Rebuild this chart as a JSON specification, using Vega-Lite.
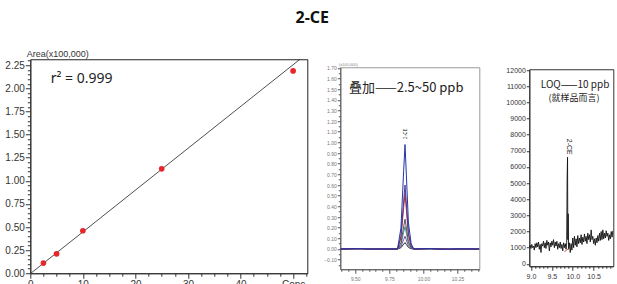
{
  "$schema": "https://vega.github.io/schema/vega-lite/v6.json",
  "padding": {"left": 2.3, "top": 9, "right": 5, "bottom": 0},
  "background": "white",
  "title": {"text": "2-CE", "fontSize": 16, "fontWeight": "bold", "font": "Noto Sans", "anchor": "middle", "dx": 4, "offset": 23, "color": "#111"},
  "config": {
    "view": {"stroke": "#222", "strokeWidth": 1},
    "axis": {"labelFont": "Liberation Sans Narrow, Liberation Sans, Arial", "titleFont": "Liberation Sans Narrow, Liberation Sans, Arial", "grid": false, "domainColor": "#333", "tickColor": "#333", "labelColor": "#333", "titleColor": "#333", "titleFontWeight": "normal", "labelOverlap": false, "labelFlush": false}
  },
  "datasets": {
    "fit": [{"conc": 0, "area": -0.005}, {"conc": 51.4, "area": 2.32}],
    "cal": [
      {"conc": 2.5, "area": 0.11},
      {"conc": 5, "area": 0.21},
      {"conc": 10, "area": 0.46},
      {"conc": 25, "area": 1.13},
      {"conc": 50, "area": 2.19}
    ],
    "overlay": [
      {"trace": "t7", "time": 9.39, "int": 0}, {"trace": "t7", "time": 9.55, "int": 0.004}, {"trace": "t7", "time": 9.7, "int": -0.003}, {"trace": "t7", "time": 9.81, "int": 0}, {"trace": "t7", "time": 9.835, "int": 0.012}, {"trace": "t7", "time": 9.855, "int": 0.045}, {"trace": "t7", "time": 9.865, "int": 0.06}, {"trace": "t7", "time": 9.875, "int": 0.042}, {"trace": "t7", "time": 9.89, "int": 0.015}, {"trace": "t7", "time": 9.91, "int": 0.003}, {"trace": "t7", "time": 9.93, "int": 0}, {"trace": "t7", "time": 10.05, "int": 0.003}, {"trace": "t7", "time": 10.2, "int": -0.002}, {"trace": "t7", "time": 10.41, "int": 0},
      {"trace": "t6", "time": 9.39, "int": 0}, {"trace": "t6", "time": 9.55, "int": 0.003}, {"trace": "t6", "time": 9.7, "int": -0.002}, {"trace": "t6", "time": 9.81, "int": 0}, {"trace": "t6", "time": 9.835, "int": 0.024}, {"trace": "t6", "time": 9.855, "int": 0.09}, {"trace": "t6", "time": 9.865, "int": 0.12}, {"trace": "t6", "time": 9.875, "int": 0.084}, {"trace": "t6", "time": 9.89, "int": 0.03}, {"trace": "t6", "time": 9.91, "int": 0.006}, {"trace": "t6", "time": 9.93, "int": 0}, {"trace": "t6", "time": 10.05, "int": 0.002}, {"trace": "t6", "time": 10.2, "int": -0.002}, {"trace": "t6", "time": 10.41, "int": 0},
      {"trace": "t5", "time": 9.39, "int": 0}, {"trace": "t5", "time": 9.55, "int": 0.002}, {"trace": "t5", "time": 9.7, "int": -0.003}, {"trace": "t5", "time": 9.81, "int": 0}, {"trace": "t5", "time": 9.835, "int": 0.042}, {"trace": "t5", "time": 9.855, "int": 0.158}, {"trace": "t5", "time": 9.865, "int": 0.21}, {"trace": "t5", "time": 9.875, "int": 0.147}, {"trace": "t5", "time": 9.89, "int": 0.053}, {"trace": "t5", "time": 9.91, "int": 0.011}, {"trace": "t5", "time": 9.93, "int": 0}, {"trace": "t5", "time": 10.05, "int": 0.003}, {"trace": "t5", "time": 10.2, "int": -0.002}, {"trace": "t5", "time": 10.41, "int": 0},
      {"trace": "t4", "time": 9.39, "int": 0}, {"trace": "t4", "time": 9.55, "int": 0.003}, {"trace": "t4", "time": 9.7, "int": -0.002}, {"trace": "t4", "time": 9.81, "int": 0}, {"trace": "t4", "time": 9.835, "int": 0.056}, {"trace": "t4", "time": 9.855, "int": 0.21}, {"trace": "t4", "time": 9.865, "int": 0.28}, {"trace": "t4", "time": 9.875, "int": 0.196}, {"trace": "t4", "time": 9.89, "int": 0.07}, {"trace": "t4", "time": 9.91, "int": 0.014}, {"trace": "t4", "time": 9.93, "int": 0}, {"trace": "t4", "time": 10.05, "int": 0.002}, {"trace": "t4", "time": 10.2, "int": -0.003}, {"trace": "t4", "time": 10.41, "int": 0},
      {"trace": "t3", "time": 9.39, "int": 0}, {"trace": "t3", "time": 9.55, "int": 0.002}, {"trace": "t3", "time": 9.7, "int": -0.002}, {"trace": "t3", "time": 9.81, "int": 0}, {"trace": "t3", "time": 9.835, "int": 0.104}, {"trace": "t3", "time": 9.855, "int": 0.39}, {"trace": "t3", "time": 9.865, "int": 0.52}, {"trace": "t3", "time": 9.875, "int": 0.364}, {"trace": "t3", "time": 9.89, "int": 0.13}, {"trace": "t3", "time": 9.91, "int": 0.026}, {"trace": "t3", "time": 9.93, "int": 0}, {"trace": "t3", "time": 10.05, "int": 0.004}, {"trace": "t3", "time": 10.2, "int": -0.002}, {"trace": "t3", "time": 10.41, "int": 0},
      {"trace": "t2", "time": 9.39, "int": 0}, {"trace": "t2", "time": 9.55, "int": 0.003}, {"trace": "t2", "time": 9.7, "int": -0.003}, {"trace": "t2", "time": 9.81, "int": 0}, {"trace": "t2", "time": 9.835, "int": 0.12}, {"trace": "t2", "time": 9.855, "int": 0.45}, {"trace": "t2", "time": 9.865, "int": 0.6}, {"trace": "t2", "time": 9.875, "int": 0.42}, {"trace": "t2", "time": 9.89, "int": 0.15}, {"trace": "t2", "time": 9.91, "int": 0.03}, {"trace": "t2", "time": 9.93, "int": 0}, {"trace": "t2", "time": 10.05, "int": 0.003}, {"trace": "t2", "time": 10.2, "int": -0.002}, {"trace": "t2", "time": 10.41, "int": 0},
      {"trace": "t1", "time": 9.39, "int": 0}, {"trace": "t1", "time": 9.5, "int": 0.004}, {"trace": "t1", "time": 9.6, "int": -0.002}, {"trace": "t1", "time": 9.7, "int": 0.003}, {"trace": "t1", "time": 9.81, "int": 0}, {"trace": "t1", "time": 9.835, "int": 0.196}, {"trace": "t1", "time": 9.855, "int": 0.735}, {"trace": "t1", "time": 9.865, "int": 0.98}, {"trace": "t1", "time": 9.875, "int": 0.686}, {"trace": "t1", "time": 9.89, "int": 0.245}, {"trace": "t1", "time": 9.91, "int": 0.049}, {"trace": "t1", "time": 9.93, "int": 0}, {"trace": "t1", "time": 10.05, "int": 0.004}, {"trace": "t1", "time": 10.15, "int": -0.003}, {"trace": "t1", "time": 10.25, "int": 0.003}, {"trace": "t1", "time": 10.41, "int": 0}
    ],
    "loq": [
      {"time": 8.96, "int": 1050}, {"time": 8.98, "int": 1150}, {"time": 9.0, "int": 950}, {"time": 9.02, "int": 1200}, {"time": 9.04, "int": 1000}, {"time": 9.06, "int": 1100}, {"time": 9.08, "int": 850}, {"time": 9.1, "int": 1250}, {"time": 9.12, "int": 1000}, {"time": 9.14, "int": 1300}, {"time": 9.16, "int": 1050}, {"time": 9.18, "int": 1350}, {"time": 9.2, "int": 900}, {"time": 9.22, "int": 1200}, {"time": 9.24, "int": 700}, {"time": 9.26, "int": 1250}, {"time": 9.28, "int": 1100}, {"time": 9.3, "int": 1400}, {"time": 9.32, "int": 1000}, {"time": 9.34, "int": 1300}, {"time": 9.36, "int": 950}, {"time": 9.38, "int": 1450}, {"time": 9.4, "int": 1150}, {"time": 9.42, "int": 1350}, {"time": 9.44, "int": 800}, {"time": 9.46, "int": 1300}, {"time": 9.48, "int": 1050}, {"time": 9.5, "int": 1400}, {"time": 9.52, "int": 1150}, {"time": 9.54, "int": 1500}, {"time": 9.56, "int": 1000}, {"time": 9.58, "int": 1350}, {"time": 9.6, "int": 1100}, {"time": 9.62, "int": 1400}, {"time": 9.64, "int": 900}, {"time": 9.66, "int": 1250}, {"time": 9.68, "int": 1000}, {"time": 9.7, "int": 1350}, {"time": 9.72, "int": 950}, {"time": 9.74, "int": 1200}, {"time": 9.76, "int": 800}, {"time": 9.78, "int": 1300}, {"time": 9.8, "int": 1000}, {"time": 9.82, "int": 1250}, {"time": 9.84, "int": 900}, {"time": 9.855, "int": 1300}, {"time": 9.865, "int": 5200}, {"time": 9.875, "int": 6600}, {"time": 9.882, "int": 1500}, {"time": 9.89, "int": 3100}, {"time": 9.9, "int": 900}, {"time": 9.92, "int": 1300}, {"time": 9.94, "int": 700}, {"time": 9.96, "int": 1250}, {"time": 9.98, "int": 850}, {"time": 10.0, "int": 1600}, {"time": 10.02, "int": 1000}, {"time": 10.04, "int": 1700}, {"time": 10.06, "int": 1150}, {"time": 10.08, "int": 1550}, {"time": 10.1, "int": 1050}, {"time": 10.12, "int": 1750}, {"time": 10.14, "int": 1250}, {"time": 10.16, "int": 1600}, {"time": 10.18, "int": 1300}, {"time": 10.2, "int": 1800}, {"time": 10.22, "int": 1200}, {"time": 10.24, "int": 1650}, {"time": 10.26, "int": 1350}, {"time": 10.28, "int": 1850}, {"time": 10.3, "int": 1400}, {"time": 10.32, "int": 1700}, {"time": 10.34, "int": 1250}, {"time": 10.36, "int": 1900}, {"time": 10.38, "int": 1500}, {"time": 10.4, "int": 1800}, {"time": 10.42, "int": 1350}, {"time": 10.44, "int": 2100}, {"time": 10.46, "int": 1500}, {"time": 10.48, "int": 1700}, {"time": 10.5, "int": 1250}, {"time": 10.52, "int": 1550}, {"time": 10.54, "int": 1150}, {"time": 10.56, "int": 1600}, {"time": 10.58, "int": 1300}, {"time": 10.6, "int": 1750}, {"time": 10.62, "int": 1400}, {"time": 10.64, "int": 1900}, {"time": 10.66, "int": 1450}, {"time": 10.68, "int": 2000}, {"time": 10.7, "int": 1500}, {"time": 10.72, "int": 2100}, {"time": 10.74, "int": 1550}, {"time": 10.76, "int": 1900}, {"time": 10.78, "int": 1600}, {"time": 10.8, "int": 2050}, {"time": 10.82, "int": 1700}, {"time": 10.84, "int": 1900}, {"time": 10.86, "int": 1450}, {"time": 10.88, "int": 1800}, {"time": 10.9, "int": 1550}, {"time": 10.92, "int": 2000}, {"time": 10.94, "int": 1650}, {"time": 10.96, "int": 2050}
    ],
    "loqbase": [{"time": 9.8, "int": 750}, {"time": 9.9, "int": 950}]
  },
  "hconcat": [
    {
      "width": 277,
      "height": 214,
      "view": {"stroke": "#222"},
      "encoding": {
        "x": {"field": "conc", "type": "quantitative", "scale": {"domain": [0, 52.7], "nice": false, "zero": false},
          "axis": {"title": null, "values": [0, 2.5, 5, 7.5, 10, 12.5, 15, 17.5, 20, 22.5, 25, 27.5, 30, 32.5, 35, 37.5, 40, 42.5, 45, 47.5, 50, 52.5],
            "labelExpr": "datum.value % 10 == 0 ? (datum.value == 50 ? 'Conc' : format(datum.value, 'd')) : ''",
            "tickSize": {"condition": {"test": "datum.value % 10 == 0", "value": 5}, "value": 3},
            "labelFontSize": 10, "labelPadding": 1}},
        "y": {"field": "area", "type": "quantitative", "scale": {"domain": [0, 2.316], "nice": false, "zero": false},
          "axis": {"title": "Area(x100,000)", "titleAngle": 0, "titleAlign": "left", "titleBaseline": "bottom", "titleX": -4, "titleY": -1, "titleFontSize": 9,
            "values": [0, 0.05, 0.1, 0.15, 0.2, 0.25, 0.3, 0.35, 0.4, 0.45, 0.5, 0.55, 0.6, 0.65, 0.7, 0.75, 0.8, 0.85, 0.9, 0.95, 1, 1.05, 1.1, 1.15, 1.2, 1.25, 1.3, 1.35, 1.4, 1.45, 1.5, 1.55, 1.6, 1.65, 1.7, 1.75, 1.8, 1.85, 1.9, 1.95, 2, 2.05, 2.1, 2.15, 2.2, 2.25, 2.3],
            "labelExpr": "abs(datum.value*4 - round(datum.value*4)) < 0.001 ? format(datum.value, '.2f') : ''",
            "tickSize": {"condition": {"test": "abs(datum.value*4 - round(datum.value*4)) < 0.001", "value": 5}, "value": 3},
            "labelFontSize": 10, "labelPadding": 1, "minExtent": 27}}
      },
      "layer": [
        {"data": {"name": "fit"}, "mark": {"type": "line", "color": "#222", "strokeWidth": 0.8, "clip": true}},
        {"data": {"name": "cal"}, "mark": {"type": "point", "shape": "circle", "filled": true, "color": "#e8262a", "size": 32, "opacity": 1}},
        {"data": {"values": [{"conc": 3.9, "area": 2.1, "label": "r² = 0.999"}]}, "mark": {"type": "text", "align": "left", "baseline": "middle", "fontSize": 14, "font": "Noto Sans", "color": "#222"}, "encoding": {"text": {"field": "label"}}}
      ]
    },
    {
      "width": 139,
      "height": 202,
      "view": {"stroke": "#999"},
      "encoding": {
        "x": {"field": "time", "type": "quantitative", "scale": {"domain": [9.39, 10.41], "nice": false, "zero": false},
          "axis": {"title": null, "values": [9.4, 9.45, 9.5, 9.55, 9.6, 9.65, 9.7, 9.75, 9.8, 9.85, 9.9, 9.95, 10, 10.05, 10.1, 10.15, 10.2, 10.25, 10.3, 10.35, 10.4],
            "labelExpr": "abs(datum.value*4 - round(datum.value*4)) < 0.001 ? format(datum.value, '.2f') : ''",
            "tickSize": {"condition": {"test": "abs(datum.value*4 - round(datum.value*4)) < 0.001", "value": 4}, "value": 2},
            "labelFontSize": 5, "labelColor": "#777", "domainColor": "#555", "tickColor": "#555", "labelPadding": 3}},
        "y": {"field": "int", "type": "quantitative", "scale": {"domain": [-0.19, 1.705], "nice": false, "zero": false},
          "axis": {"title": "(x100,000)", "titleAngle": 0, "titleAlign": "left", "titleBaseline": "bottom", "titleX": -2, "titleY": -1, "titleFontSize": 4, "titleColor": "#888",
            "values": [-0.15, -0.1, -0.05, 0, 0.05, 0.1, 0.15, 0.2, 0.25, 0.3, 0.35, 0.4, 0.45, 0.5, 0.55, 0.6, 0.65, 0.7, 0.75, 0.8, 0.85, 0.9, 0.95, 1, 1.05, 1.1, 1.15, 1.2, 1.25, 1.3, 1.35, 1.4, 1.45, 1.5, 1.55, 1.6, 1.65, 1.7],
            "labelExpr": "abs(datum.value*10 - round(datum.value*10)) < 0.001 ? format(datum.value, '.2f') : ''",
            "tickSize": {"condition": {"test": "abs(datum.value*10 - round(datum.value*10)) < 0.001", "value": 3}, "value": 2},
            "labelFontSize": 5, "labelColor": "#777", "domainColor": "#555", "tickColor": "#555", "labelPadding": 1, "minExtent": 31.3}}
      },
      "layer": [
        {"data": {"name": "overlay"}, "mark": {"type": "line", "strokeWidth": 1, "clip": true},
          "encoding": {"color": {"field": "trace", "type": "nominal", "legend": null,
            "scale": {"domain": ["t7", "t6", "t5", "t4", "t3", "t2", "t1"], "range": ["#222222", "#7a4a9a", "#3b9a9a", "#555555", "#d02828", "#4b3b8f", "#2233aa"]}}}},
        {"data": {"values": [{"time": 9.454, "int": 1.506, "label": "叠加——2.5~50 ppb"}, {"time": 9.868, "int": 1.03, "label": "2-CE"}]},
          "mark": {"type": "text", "align": "left", "baseline": "middle", "font": "Noto Sans CJK SC", "color": "#222"},
          "encoding": {"text": {"field": "label"},
            "size": {"condition": {"test": "datum.label == '2-CE'", "value": 5}, "value": 13},
            "angle": {"condition": {"test": "datum.label == '2-CE'", "value": 270}, "value": 0}}}
      ]
    },
    {
      "width": 84,
      "height": 197,
      "view": {"stroke": "#333"},
      "encoding": {
        "x": {"field": "time", "type": "quantitative", "scale": {"domain": [8.96, 10.97], "nice": false, "zero": false},
          "axis": {"title": null, "values": [9, 9.1, 9.2, 9.3, 9.4, 9.5, 9.6, 9.7, 9.8, 9.9, 10, 10.1, 10.2, 10.3, 10.4, 10.5, 10.6, 10.7, 10.8, 10.9],
            "labelExpr": "abs(datum.value*2 - round(datum.value*2)) < 0.001 ? format(datum.value, '.1f') : ''",
            "tickSize": {"condition": {"test": "abs(datum.value*2 - round(datum.value*2)) < 0.001", "value": 4}, "value": 2},
            "labelFontSize": 7, "labelPadding": 2}},
        "y": {"field": "int", "type": "quantitative", "scale": {"domain": [-150, 12050], "nice": false, "zero": false},
          "axis": {"title": null, "values": [0, 1000, 2000, 3000, 4000, 5000, 6000, 7000, 8000, 9000, 10000, 11000, 12000], "format": "d", "tickSize": 3,
            "labelFontSize": 7, "labelPadding": 1, "minExtent": 48.3}}
      },
      "layer": [
        {"data": {"name": "loq"}, "mark": {"type": "line", "color": "#111", "strokeWidth": 0.9, "clip": true}},
        {"data": {"name": "loqbase"}, "mark": {"type": "line", "color": "#c03030", "strokeWidth": 0.8}},
        {"data": {"values": [{"time": 10.055, "int": 11050, "label": "LOQ——10 ppb", "sz": 10}, {"time": 10.03, "int": 10270, "label": "(就样品而言)", "sz": 9}]},
          "mark": {"type": "text", "align": "center", "baseline": "middle", "font": "Noto Sans CJK SC", "color": "#222"},
          "encoding": {"text": {"field": "label"}, "size": {"field": "sz", "type": "quantitative", "scale": null}}},
        {"data": {"values": [{"time": 9.9, "int": 7250, "label": "2-CE"}]},
          "mark": {"type": "text", "align": "center", "baseline": "middle", "font": "Liberation Sans", "fontSize": 7, "angle": 90, "color": "#222"},
          "encoding": {"text": {"field": "label"}}}
      ]
    }
  ],
  "spacing": 0,
  "center": true
}
